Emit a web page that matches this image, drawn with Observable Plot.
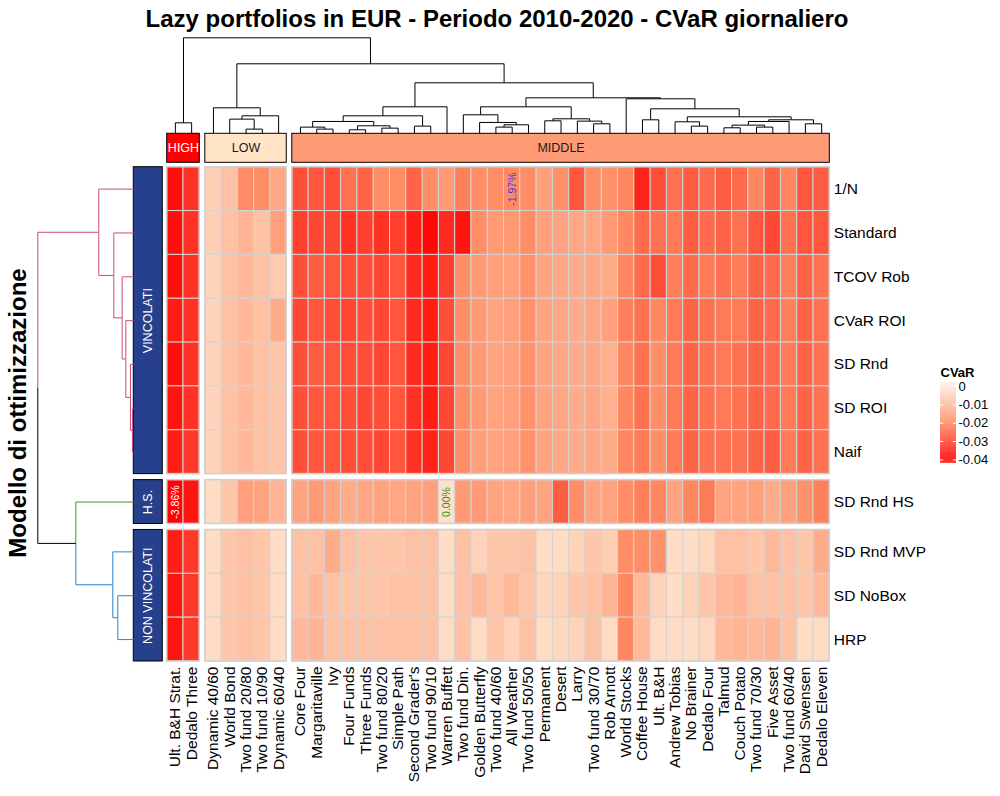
<!DOCTYPE html>
<html>
<head>
<meta charset="utf-8">
<script src="https://cdn.jsdelivr.net/npm/d3@7"></script>
<script src="https://cdn.jsdelivr.net/npm/@observablehq/plot@0.6"></script>
<style>
  html, body { margin: 0; padding: 0; background: #fff; overflow: hidden; }
  #wrap { position: relative; width: 1000px; height: 796px; overflow: hidden; font-family: "Liberation Sans", Arial, sans-serif; }
  #wrap svg { position: absolute; left: 0; top: 0; }
  .title { position: absolute; left: 0; top: 5px; width: 994px; text-align: center; font-weight: bold; font-size: 24px; color: #000; white-space: nowrap; }
  .ytitle { position: absolute; left: 18px; top: 413px; transform: translate(-50%, -50%) rotate(-90deg); font-weight: bold; font-size: 24px; color: #000; white-space: nowrap; }
</style>
</head>
<body>
<div id="wrap">
  <div class="title">Lazy portfolios in EUR - Periodo 2010-2020 - CVaR giornaliero</div>
  <div class="ytitle">Modello di ottimizzazione</div>
</div>
<script>
// ---------------- DATA ----------------
const colsHigh = ["Ult. B&H Strat.", "Dedalo Three"];
const colsLow = ["Dynamic 40/60", "World Bond", "Two fund 20/80", "Two fund 10/90", "Dynamic 60/40"];
const colsMiddle = ["Core Four", "Margaritaville", "Ivy", "Four Funds", "Three Funds", "Two fund 80/20",
  "Simple Path", "Second Grader's", "Two fund 90/10", "Warren Buffett", "Two fund Din.", "Golden Butterfly",
  "Two fund 40/60", "All Weather", "Two fund 50/50", "Permanent", "Desert", "Larry", "Two fund 30/70",
  "Rob Arnott", "World Stocks", "Coffee House", "Ult. B&H", "Andrew Tobias", "No Brainer", "Dedalo Four",
  "Talmud", "Couch Potato", "Two fund 70/30", "Five Asset", "Two fund 60/40", "David Swensen", "Dedalo Eleven"];
const colGroupNames = ["HIGH", "LOW", "MIDDLE"];
const colGroupFills = ["#FF0000", "#FFE4C6", "#FF9A76"];
const colGroupText = ["#FFFFFF", "#1A1A1A", "#1A1A1A"];

const rowsVincolati = ["1/N", "Standard", "TCOV Rob", "CVaR ROI", "SD Rnd", "SD ROI", "Naif"];
const rowsHS = ["SD Rnd HS"];
const rowsNonVincolati = ["SD Rnd MVP", "SD NoBox", "HRP"];
const rowGroupNames = ["VINCOLATI", "H.S.", "NON VINCOLATI"];

// CVaR values, one array per row, columns in the order HIGH, LOW, MIDDLE
const v1N      = [-0.037,-0.032, -0.004,-0.007,-0.019,-0.019,-0.013, -0.028,-0.027,-0.028,-0.023,-0.025,-0.019,-0.019,-0.025,-0.019,-0.016,-0.021,-0.019,-0.019, -0.0197,-0.019,-0.015,-0.018,-0.027,-0.019,-0.018,-0.020,-0.034,-0.028,-0.023,-0.026,-0.024,-0.026,-0.024,-0.020,-0.025,-0.020,-0.027,-0.026];
const vStandard= [-0.037,-0.032, -0.004,-0.007,-0.010,-0.007,-0.015, -0.030,-0.029,-0.029,-0.032,-0.030,-0.032,-0.030,-0.035,-0.038,-0.033,-0.036,-0.019,-0.016, -0.016,-0.019,-0.015,-0.014,-0.013,-0.013,-0.016,-0.020,-0.024,-0.023,-0.022,-0.026,-0.024,-0.025,-0.023,-0.027,-0.029,-0.023,-0.027,-0.027];
const vTCOVRob = [-0.037,-0.032, -0.003,-0.007,-0.009,-0.007,-0.005, -0.028,-0.026,-0.027,-0.028,-0.028,-0.029,-0.027,-0.033,-0.035,-0.030,-0.019,-0.016,-0.015, -0.015,-0.018,-0.014,-0.013,-0.012,-0.013,-0.012,-0.020,-0.024,-0.028,-0.021,-0.024,-0.022,-0.023,-0.022,-0.025,-0.024,-0.021,-0.025,-0.023];
const vCVaRROI = [-0.035,-0.032, -0.003,-0.007,-0.009,-0.007,-0.012, -0.029,-0.027,-0.028,-0.029,-0.028,-0.029,-0.027,-0.033,-0.035,-0.028,-0.019,-0.016,-0.014, -0.015,-0.018,-0.014,-0.013,-0.012,-0.013,-0.015,-0.021,-0.023,-0.020,-0.022,-0.025,-0.023,-0.022,-0.022,-0.025,-0.024,-0.021,-0.025,-0.023];
const vSDRnd   = [-0.037,-0.032, -0.003,-0.007,-0.009,-0.007,-0.006, -0.028,-0.026,-0.027,-0.028,-0.028,-0.029,-0.027,-0.033,-0.035,-0.029,-0.019,-0.016,-0.014, -0.015,-0.018,-0.014,-0.013,-0.012,-0.013,-0.011,-0.020,-0.023,-0.019,-0.022,-0.025,-0.023,-0.022,-0.023,-0.025,-0.024,-0.022,-0.025,-0.023];
const vSDROI   = [-0.036,-0.032, -0.003,-0.007,-0.009,-0.007,-0.006, -0.028,-0.027,-0.027,-0.028,-0.029,-0.028,-0.027,-0.032,-0.035,-0.029,-0.019,-0.016,-0.014, -0.015,-0.018,-0.014,-0.013,-0.012,-0.013,-0.011,-0.020,-0.023,-0.019,-0.022,-0.025,-0.023,-0.022,-0.023,-0.025,-0.024,-0.022,-0.025,-0.023];
const vNaif    = [-0.035,-0.031, -0.003,-0.007,-0.009,-0.007,-0.006, -0.028,-0.027,-0.027,-0.028,-0.028,-0.029,-0.027,-0.032,-0.034,-0.029,-0.019,-0.015,-0.014, -0.015,-0.018,-0.014,-0.013,-0.012,-0.013,-0.012,-0.020,-0.022,-0.019,-0.022,-0.025,-0.023,-0.023,-0.023,-0.025,-0.026,-0.022,-0.025,-0.023];
const vSDRndHS = [-0.0386,-0.036, -0.001,-0.006,-0.015,-0.014,-0.010, -0.014,-0.016,-0.014,-0.012,-0.013,-0.014,-0.013,-0.014,-0.015,0.000,-0.016,-0.016,-0.014, -0.013,-0.015,-0.014,-0.026,-0.019,-0.014,-0.014,-0.019,-0.021,-0.020,-0.014,-0.020,-0.022,-0.014,-0.014,-0.015,-0.012,-0.015,-0.018,-0.021];
const vSDRndMVP= [-0.035,-0.031, -0.001,-0.006,-0.007,-0.006,-0.001, -0.007,-0.007,-0.012,-0.007,-0.006,-0.006,-0.006,-0.007,-0.007,-0.001,-0.007,-0.003,-0.006, -0.006,-0.007,-0.001,-0.001,-0.003,-0.006,-0.004,-0.019,-0.019,-0.018,-0.001,-0.001,-0.002,-0.007,-0.007,-0.006,-0.009,-0.007,-0.006,-0.012];
const vSDNoBox = [-0.036,-0.031, -0.001,-0.006,-0.007,-0.006,-0.001, -0.007,-0.009,-0.007,-0.006,-0.006,-0.006,-0.007,-0.007,-0.007,-0.001,-0.007,-0.009,-0.006, -0.009,-0.006,-0.002,-0.003,-0.006,-0.007,-0.010,-0.020,-0.009,-0.003,-0.001,-0.003,-0.006,-0.009,-0.010,-0.007,-0.007,-0.007,-0.006,-0.009];
const vHRP     = [-0.036,-0.031, -0.001,-0.006,-0.007,-0.006,-0.001, -0.009,-0.010,-0.007,-0.007,-0.007,-0.007,-0.007,-0.007,-0.007,-0.001,-0.007,-0.001,-0.006, -0.003,-0.007,-0.001,-0.002,-0.003,-0.007,-0.001,-0.020,-0.009,-0.001,-0.001,-0.001,-0.002,-0.009,-0.010,-0.009,-0.010,-0.007,-0.001,-0.001];

// highlighted cells (value printed in the cell)
const cellNotes = [
  {row: "1/N", col: "All Weather", color: "#3535FF"},
  {row: "SD Rnd HS", col: "Ult. B&H Strat.", color: "#FFFFFF"},
  {row: "SD Rnd HS", col: "Warren Buffett", color: "#22991E"}
];

// column dendrogram: [height, left, right]
const dHigh = [0.33, "Ult. B&H Strat.", "Dedalo Three"];
const dLow = [0.78, "Dynamic 40/60", [0.54, [0.44, "World Bond", [0.14, "Two fund 20/80", "Two fund 10/90"]], "Dynamic 60/40"]];
const dMidLeft = [0.81, [0.54, [0.37, [0.20, "Core Four", [0.14, "Margaritaville", "Ivy"]],
                                     [0.24, [0.12, "Four Funds", "Three Funds"], [0.17, "Two fund 80/20", "Simple Path"]]],
                               [0.23, "Second Grader's", "Two fund 90/10"]], "Warren Buffett"];
const dMidA = [0.57, "Two fund Din.", [0.34, "Golden Butterfly", [0.27, [0.20, "Two fund 40/60", "All Weather"], "Two fund 50/50"]]];
const dMidB = [0.45, [0.39, "Permanent", "Desert"], [0.38, "Larry", [0.30, "Two fund 30/70", "Rob Arnott"]]];
const dMidC = [1.05, "World Stocks", [0.75, [0.42, "Coffee House", "Ult. B&H"],
                 [0.51, [0.36, "Andrew Tobias", [0.23, "No Brainer", "Dedalo Four"]],
                        [0.42, [0.37, [0.26, [0.18, "Talmud", "Couch Potato"], [0.20, "Two fund 70/30", "Five Asset"]], "Two fund 60/40"],
                               [0.30, "David Swensen", "Dedalo Eleven"]]]]];
const dMiddle = [1.53, dMidLeft, [1.08, [0.81, dMidA, dMidB], dMidC]];
const colTree = [2.88, dHigh, [2.10, dLow, dMiddle]];

// row dendrogram
const dVinc = [1.05, "1/N", [0.60, "Standard", [0.35, "TCOV Rob", [0.24, "CVaR ROI", [0.10, "SD Rnd", [0.04, "SD ROI", "Naif"]]]]]];
const dNonVinc = [0.63, "SD Rnd MVP", [0.48, "SD NoBox", "HRP"]];
const rowTree = [2.88, dVinc, [1.74, "SD Rnd HS", dNonVinc]];
const rowClusterColors = new Map([[dVinc, "#CF4A7B"], ["SD Rnd HS", "#3F9A1C"], [dNonVinc, "#2B84C9"]]);

const legendTicks = [0, -0.01, -0.02, -0.03, -0.04];

// ---------------- LAYOUT HELPERS ----------------
const allCols = [...colsHigh, ...colsLow, ...colsMiddle];
const colGroups = [colsHigh, colsLow, colsMiddle];
const colGroupOf = allCols.map((c, i) => i < colsHigh.length ? 0 : i < colsHigh.length + colsLow.length ? 1 : 2);
const GX = 0.34, GY = 0.137;
const colX = allCols.map((c, i) => i + GX * colGroupOf[i]);
const XW = allCols.length + 2 * GX;

const allRows = [...rowsVincolati, ...rowsHS, ...rowsNonVincolati];
const rowGroups = [rowsVincolati, rowsHS, rowsNonVincolati];
const rowGroupOf = allRows.map((r, i) => i < rowsVincolati.length ? 0 : i < rowsVincolati.length + rowsHS.length ? 1 : 2);
const rowY = allRows.map((r, i) => i + GY * rowGroupOf[i]);
const YH = allRows.length + 2 * GY;
const rowValues = [v1N, vStandard, vTCOVRob, vCVaRROI, vSDRnd, vSDROI, vNaif, vSDRndHS, vSDRndMVP, vSDNoBox, vHRP];

const cells = [];
allRows.forEach((r, ri) => allCols.forEach((c, ci) => {
  cells.push({row: r, col: c, v: rowValues[ri][ci], x1: colX[ci], x2: colX[ci] + 1, y1: rowY[ri], y2: rowY[ri] + 1});
}));
const blocks = [];
colGroups.forEach(cg => rowGroups.forEach(rg => {
  const c0 = allCols.indexOf(cg[0]), c1 = allCols.indexOf(cg[cg.length - 1]);
  const r0 = allRows.indexOf(rg[0]), r1 = allRows.indexOf(rg[rg.length - 1]);
  blocks.push({x1: colX[c0], x2: colX[c1] + 1, y1: rowY[r0], y2: rowY[r1] + 1});
}));
const fmtPct = v => d3.format(".2%")(v).replace("\u2212", "-");
const notes = cellNotes.map(n => {
  const ci = allCols.indexOf(n.col), ri = allRows.indexOf(n.row);
  return {...n, x: colX[ci] + 0.5, y: rowY[ri] + 0.5, label: fmtPct(rowValues[ri][ci])};
});

function dendSegments(tree, leafPos, colorOf) {
  const segs = [];
  function walk(node, color) {
    if (typeof node === "string") return {p: leafPos(node), h: 0};
    const [h, a, b] = node;
    const kids = [a, b].map(k => {
      const c = (colorOf && colorOf.get(k)) || color;
      return {...walk(k, c), color: c};
    });
    const p = (kids[0].p + kids[1].p) / 2;
    for (const k of kids) {
      segs.push({p1: p, p2: k.p, h1: h, h2: h, color: k.color});
      segs.push({p1: k.p, p2: k.p, h1: h, h2: k.h, color: k.color});
    }
    return {p, h};
  }
  walk(tree, "#000000");
  return segs;
}
const colSegs = dendSegments(colTree, name => colX[allCols.indexOf(name)] + 0.5, null);
const rowSegs = dendSegments(rowTree, name => rowY[allRows.indexOf(name)] + 0.5, rowClusterColors);

// ---------------- SCALES ----------------
const FONT = "'Liberation Sans', Arial, Helvetica, sans-serif";
const base = {width: 1000, height: 796, margin: 0, style: {background: "transparent", fontFamily: FONT, overflow: "visible"}};
const X = {type: "linear", domain: [0, XW], range: [166.7, 829.3], axis: null};
const Y = {type: "linear", domain: [0, YH], range: [166.7, 661], axis: null};
const COLOR = {type: "linear", domain: [-0.039, -0.0197, 0.0025], range: ["#FF0000", "#FF8A62", "#FFEBD6"], interpolate: "rgb", clamp: true};
const wrap = document.getElementById("wrap");
const mount = p => wrap.appendChild(p);

// ---------------- HEATMAP ----------------
mount(Plot.plot({
  ...base, x: X, y: Y, color: COLOR,
  marks: [
    Plot.rect(cells, {x1: "x1", x2: "x2", y1: "y1", y2: "y2", fill: "v", stroke: "#D3D3D3", strokeWidth: 1}),
    Plot.rect(blocks, {x1: "x1", x2: "x2", y1: "y1", y2: "y2", fill: "none", stroke: "#D0D0D0", strokeWidth: 1.5}),
    Plot.text(allCols, {x: (d, i) => colX[i] + 0.5, y: () => YH, text: d => d, dy: 5, rotate: -90,
      textAnchor: "end", lineAnchor: "middle", fontSize: 15.5, fill: "#000"}),
    Plot.text(allRows, {x: () => XW, y: (d, i) => rowY[i] + 0.5, text: d => d, dx: 4,
      textAnchor: "start", lineAnchor: "middle", fontSize: 15.5, fill: "#000"}),
    ...notes.map(n => Plot.text([n], {x: "x", y: "y", text: "label", rotate: -90, textAnchor: "middle",
      lineAnchor: "middle", fontSize: 10.5, fill: n.color}))
  ]
}));

// ---------------- TOP ANNOTATION ----------------
const topAnno = colGroups.map((g, gi) => ({
  name: colGroupNames[gi], fill: colGroupFills[gi], text: colGroupText[gi],
  x1: colX[allCols.indexOf(g[0])], x2: colX[allCols.indexOf(g[g.length - 1])] + 1
}));
mount(Plot.plot({
  ...base, x: X, y: {type: "linear", domain: [0, 1], range: [162.3, 133.3], axis: null},
  color: {type: "identity"},
  marks: [
    Plot.rect(topAnno, {x1: "x1", x2: "x2", y1: () => 0, y2: () => 1, fill: "fill", stroke: "#000", strokeWidth: 1}),
    Plot.text(topAnno, {x: d => (d.x1 + d.x2) / 2, y: () => 0.5, text: "name", fill: "text", fontSize: 12.5,
      textAnchor: "middle", lineAnchor: "middle"})
  ]
}));

// ---------------- TOP DENDROGRAM ----------------
mount(Plot.plot({
  ...base, x: X, y: {type: "linear", domain: [0, 2.88], range: [133.3, 37.3], axis: null},
  color: {type: "identity"},
  marks: [
    Plot.link(colSegs, {x1: "p1", x2: "p2", y1: "h1", y2: "h2", stroke: "color", strokeWidth: 1})
  ]
}));

// ---------------- LEFT ANNOTATION ----------------
const leftAnno = rowGroups.map((g, gi) => ({
  name: rowGroupNames[gi],
  y1: rowY[allRows.indexOf(g[0])], y2: rowY[allRows.indexOf(g[g.length - 1])] + 1
}));
mount(Plot.plot({
  ...base, y: Y, x: {type: "linear", domain: [0, 1], range: [133.3, 162.3], axis: null},
  marks: [
    Plot.rect(leftAnno, {x1: () => 0, x2: () => 1, y1: "y1", y2: "y2", fill: "#27408B", stroke: "#000", strokeWidth: 1}),
    Plot.text(leftAnno, {x: () => 0.5, y: d => (d.y1 + d.y2) / 2, text: "name", rotate: -90, fill: "#FFFFFF",
      fontSize: 12.5, textAnchor: "middle", lineAnchor: "middle"})
  ]
}));

// ---------------- LEFT DENDROGRAM ----------------
mount(Plot.plot({
  ...base, y: Y, x: {type: "linear", domain: [0, 2.88], range: [133.3, 37.3], axis: null},
  color: {type: "identity"},
  marks: [
    Plot.link(rowSegs, {y1: "p1", y2: "p2", x1: "h1", x2: "h2", stroke: "color", strokeWidth: 1})
  ]
}));

// ---------------- LEGEND ----------------
const LD = [-0.0418, 0.0022];
const lstep = 0.00025;
const legendSteps = d3.range(LD[0], LD[1] - 1e-9, lstep);
mount(Plot.plot({
  ...base, color: {...COLOR, range: ["#FF0000", "#FF8A62", "#FFF3EA"]},
  x: {type: "linear", domain: [0, 1], range: [940, 956], axis: null},
  y: {type: "linear", domain: LD, range: [462.7, 382], axis: null},
  marks: [
    Plot.rect(legendSteps, {x1: () => 0, x2: () => 1, y1: d => d, y2: d => Math.min(d + lstep * 1.3, LD[1]), fill: d => d + lstep / 2}),
    Plot.ruleY(legendTicks, {y: d => d, x1: () => 0, x2: () => 0.2, stroke: "#FFFFFF", strokeWidth: 1}),
    Plot.ruleY(legendTicks, {y: d => d, x1: () => 0.8, x2: () => 1, stroke: "#FFFFFF", strokeWidth: 1}),
    Plot.text(legendTicks, {x: () => 1, y: d => d, text: d => String(d), dx: 2, textAnchor: "start",
      lineAnchor: "middle", fontSize: 13, fill: "#000"}),
    Plot.text(["CVaR"], {x: () => 0, y: () => LD[1], text: d => d, dy: -10, textAnchor: "start",
      lineAnchor: "middle", fontSize: 13, fontWeight: "bold", fill: "#000"})
  ]
}));
</script>
</body>
</html>
